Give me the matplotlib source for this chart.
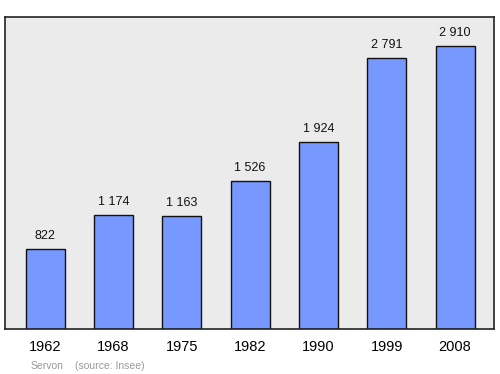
import matplotlib.pyplot as plt

years = ["1962", "1968", "1975", "1982", "1990", "1999", "2008"]
population = [822, 1174, 1163, 1526, 1924, 2791, 2910]
labels = ["822", "1 174", "1 163", "1 526", "1 924", "2 791", "2 910"]

plt.rcParams['font.family'] = ['Liberation Sans', 'DejaVu Sans']

fig = plt.figure(figsize=(5, 3.74), dpi=100)
ax = fig.add_axes([0.01, 0.1203, 0.978, 0.8342])
ax.set_facecolor('#ebebeb')

x = range(len(years))
ax.bar(x, population, width=0.57, color='#7799ff', edgecolor='#111111', linewidth=1, zorder=2)
for i, (v, lab) in enumerate(zip(population, labels)):
    ax.annotate(lab, (i, v), xytext=(0, 5), textcoords='offset points',
                ha='center', va='bottom', fontsize=9, color='#111111')

ax.set_xlim(-0.59, 6.57)
ax.set_ylim(0, 3210)
ax.set_yticks([])
ax.set_xticks(list(x))
ax.set_xticklabels(years, fontsize=10.5)
ax.tick_params(axis='x', length=0, pad=8)
for s in ax.spines.values():
    s.set_linewidth(1.2)
    s.set_color('#222222')

fig.text(0.062, 0.014, "Servon", fontsize=7.5, color='#999999')
fig.text(0.15, 0.014, "(source: Insee)", fontsize=7.5, color='#999999')

fig.savefig('out.png', dpi=100)
